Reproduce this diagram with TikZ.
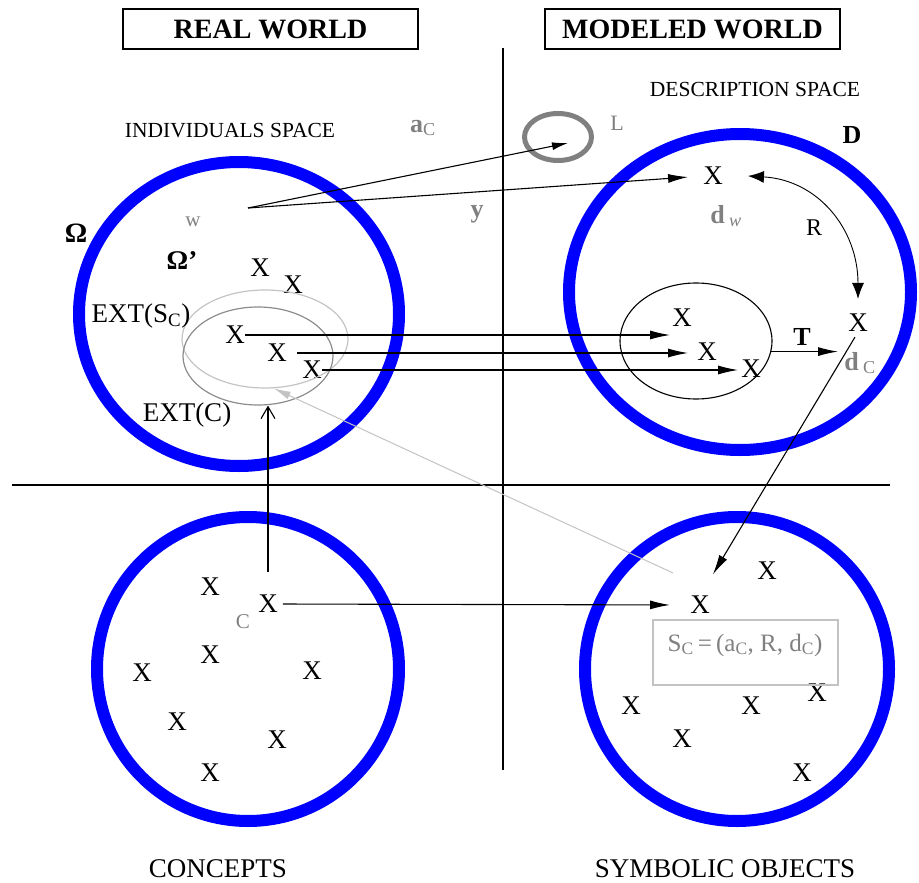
\documentclass[tikz,border=0pt]{standalone}
\usepackage{fontspec}
\setmainfont{Liberation Serif}
\usetikzlibrary{arrows.meta,shapes.geometric}

\definecolor{ringblue}{RGB}{0,0,255}
\definecolor{labelgrey}{RGB}{128,128,128}
\definecolor{palegrey}{RGB}{195,195,195}
\definecolor{midgrey}{RGB}{140,140,140}

\tikzset{
  ring/.style={draw=ringblue, line width=12pt},
  xmark/.style={inner sep=0pt, font=\fontsize{27}{27}\selectfont},
  caption/.style={inner sep=0pt, font=\fontsize{27}{27}\selectfont},
  spacetag/.style={inner sep=0pt, font=\fontsize{21.5}{22}\selectfont},
  greytag/.style={inner sep=0pt, text=labelgrey, font=\fontsize{26}{26}\selectfont\bfseries},
  titlebox/.style={draw, line width=1.2pt, minimum width=295pt, minimum height=40pt, inner sep=0pt,
    font=\fontsize{28}{28}\selectfont\bfseries},
  arr/.style={-{Latex[length=20pt,width=9pt]}, line width=1.1pt},
  smallarr/.style={-{Latex[length=16pt,width=8pt]}, line width=1.1pt},
  greyarr/.style={-{Latex[length=17pt,width=8pt]}, draw=palegrey, line width=1pt},
  uparr/.style={-{Straight Barb[length=12pt,width=14pt]}, line width=1.1pt},
}

\begin{document}
\begin{tikzpicture}[x=1pt, y=-1pt]
  \useasboundingbox (0,0) rectangle (919,883);

  % Titles and the two axes
  \node[titlebox] (real) at (270.5,29) {REAL WORLD};
  \node[titlebox] (modeled) at (692.5,29) {MODELED WORLD};
  \draw[line width=1.3pt] (503,48) -- (503,770);
  \draw[line width=1.3pt] (12,485) -- (890,485);

  % The four blue spaces
  \draw[ring] (239,314) ellipse [x radius=160pt, y radius=152pt];
  \draw[ring] (740,292) ellipse [x radius=171pt, y radius=158pt];
  \draw[ring] (248,669) ellipse [x radius=151pt, y radius=152pt];
  \draw[ring] (737,669) ellipse [x radius=152pt, y radius=152pt];

  % Labels of the spaces
  \node[spacetag] (indiv) at (230,131) {INDIVIDUALS SPACE};
  \node[spacetag] (descr) at (755,89) {DESCRIPTION SPACE};
  \node[caption] (concepts) at (218,869) {CONCEPTS};
  \node[caption] (symbolic) at (725,869) {SYMBOLIC OBJECTS};
  \node[inner sep=0pt, font=\fontsize{28}{28}\selectfont\bfseries] (omega) at (76,233) {Ω};
  \node[inner sep=0pt, font=\fontsize{27}{27}\selectfont\bfseries] (omegap) at (182,261) {Ω'};
  \node[inner sep=0pt, font=\fontsize{26}{26}\selectfont\bfseries] (dspace) at (852,135) {D};

  % Grey ellipse L and its labels
  \node[draw=labelgrey, line width=5pt, ellipse, minimum width=67pt, minimum height=47pt, inner sep=0pt] (lell) at (558,137) {};
  \node[inner sep=0pt, text=labelgrey, font=\fontsize{22}{22}\selectfont] (ltag) at (617,123) {L};
  \node[greytag] (atag) at (423,128) {a\textsubscript{\mdseries C}};
  \node[greytag] (ytag) at (477,214) {y};
  \node[inner sep=0pt, text=labelgrey, font=\fontsize{21}{21}\selectfont] (wtag) at (193,222) {w};
  \coordinate (wpt) at (248,208);
  \coordinate (lhit) at (568,143);

  % Individuals
  \node[xmark] (xa) at (260,268) {X};
  \node[xmark] (xb) at (293,285) {X};
  \node[xmark] (xl1) at (235,335) {X};
  \node[xmark] (xl2) at (277,353) {X};
  \node[xmark] (xl3) at (312,370) {X};

  % Extensions
  \node[draw=palegrey, line width=1.2pt, ellipse, minimum width=166pt, minimum height=98pt, inner sep=0pt] (exts) at (265,339) {};
  \node[draw=midgrey, line width=1.2pt, ellipse, minimum width=150pt, minimum height=98pt, inner sep=0pt] (extc) at (258,356) {};
  \node[caption] (extstag) at (141,316) {EXT(S\textsubscript{C})};
  \node[caption] (extctag) at (187,415) {EXT(C)};

  % Descriptions
  \node[xmark] (xdw) at (713,176) {X};
  \node[greytag] (dwtag) at (726,216) {d\,\textsubscript{\mdseries\itshape w}};
  \node[draw, line width=1.1pt, ellipse, minimum width=152pt, minimum height=116pt, inner sep=0pt] (tclass) at (696,341) {};
  \node[xmark] (xr1) at (682,318) {X};
  \node[xmark] (xr2) at (707,352) {X};
  \node[xmark] (xr3) at (751,369) {X};
  \node[xmark] (xdc) at (858,323) {X};
  \node[greytag] (dctag) at (860,363) {d\,\textsubscript{\mdseries C}};
  \node[inner sep=0pt, font=\fontsize{24}{24}\selectfont] (rtag) at (814,228) {R};
  \node[inner sep=0pt, font=\fontsize{26}{26}\selectfont\bfseries] (ttag) at (802,337) {T};

  % Concepts
  \foreach \p [count=\i] in {(210,587),(210,655),(142,673),(312,671),(177,722),(277,740),(210,773)}
    \node[xmark] (cx\i) at \p {X};
  \node[xmark] (xc) at (268,604) {X};
  \node[inner sep=0pt, text=labelgrey, font=\fontsize{21}{21}\selectfont] (ctag) at (243,622) {C};

  % Symbolic objects
  \foreach \p [count=\i] in {(767,571),(631,706),(751,706),(817,693),(682,739),(802,773)}
    \node[xmark] (sx\i) at \p {X};
  \node[xmark] (xsc) at (700,605) {X};
  \node[draw=palegrey, line width=1.2pt, minimum width=185pt, minimum height=65pt, inner sep=0pt] (scbox) at (745.5,652.5) {};
  \node[inner sep=0pt, text=labelgrey, font=\fontsize{25}{25}\selectfont] (sctag) at (745,645)
    {S\textsubscript{C}\,=\,(a\textsubscript{C}, R, d\textsubscript{C})};
  \coordinate (sctail) at (673,573);

  % Connectors
  \draw[smallarr] (wpt) -- (lhit);
  \draw[arr, shorten >=15pt] (wpt) -- (xdw.west);
  \draw[arr, shorten >=2pt] (xl1.east) -- (xl1.east -| xr1.west);
  \draw[arr, shorten <=10pt, shorten >=9pt] (xl2.east) -- (xl2.east -| xr2.west);
  \draw[arr, shorten >=3pt] (xl3.east) -- (xl3.east -| xr3.west);
  \draw[arr, shorten >=10pt] (tclass.-8) -- (tclass.-8 -| xdc.west);
  \draw[{Latex[length=16pt,width=12pt]}-{Latex[length=16pt,width=12pt]}, line width=0.9pt]
    ([xshift=25pt]xdw.east) .. controls +(70,4) and +(0,-70) .. ([yshift=15pt]xdc.north);
  \draw[arr, shorten <=6pt, shorten >=25pt] (xdc.south) -- (xsc.north);
  \draw[arr, shorten <=5pt, shorten >=20pt] (xc.east) -- (xsc.west);
  \draw[uparr, shorten <=23pt] (xc.north) -- (xc.north |- extc.south);
  \draw[greyarr] (sctail) -- (exts.280);
\end{tikzpicture}
\end{document}
